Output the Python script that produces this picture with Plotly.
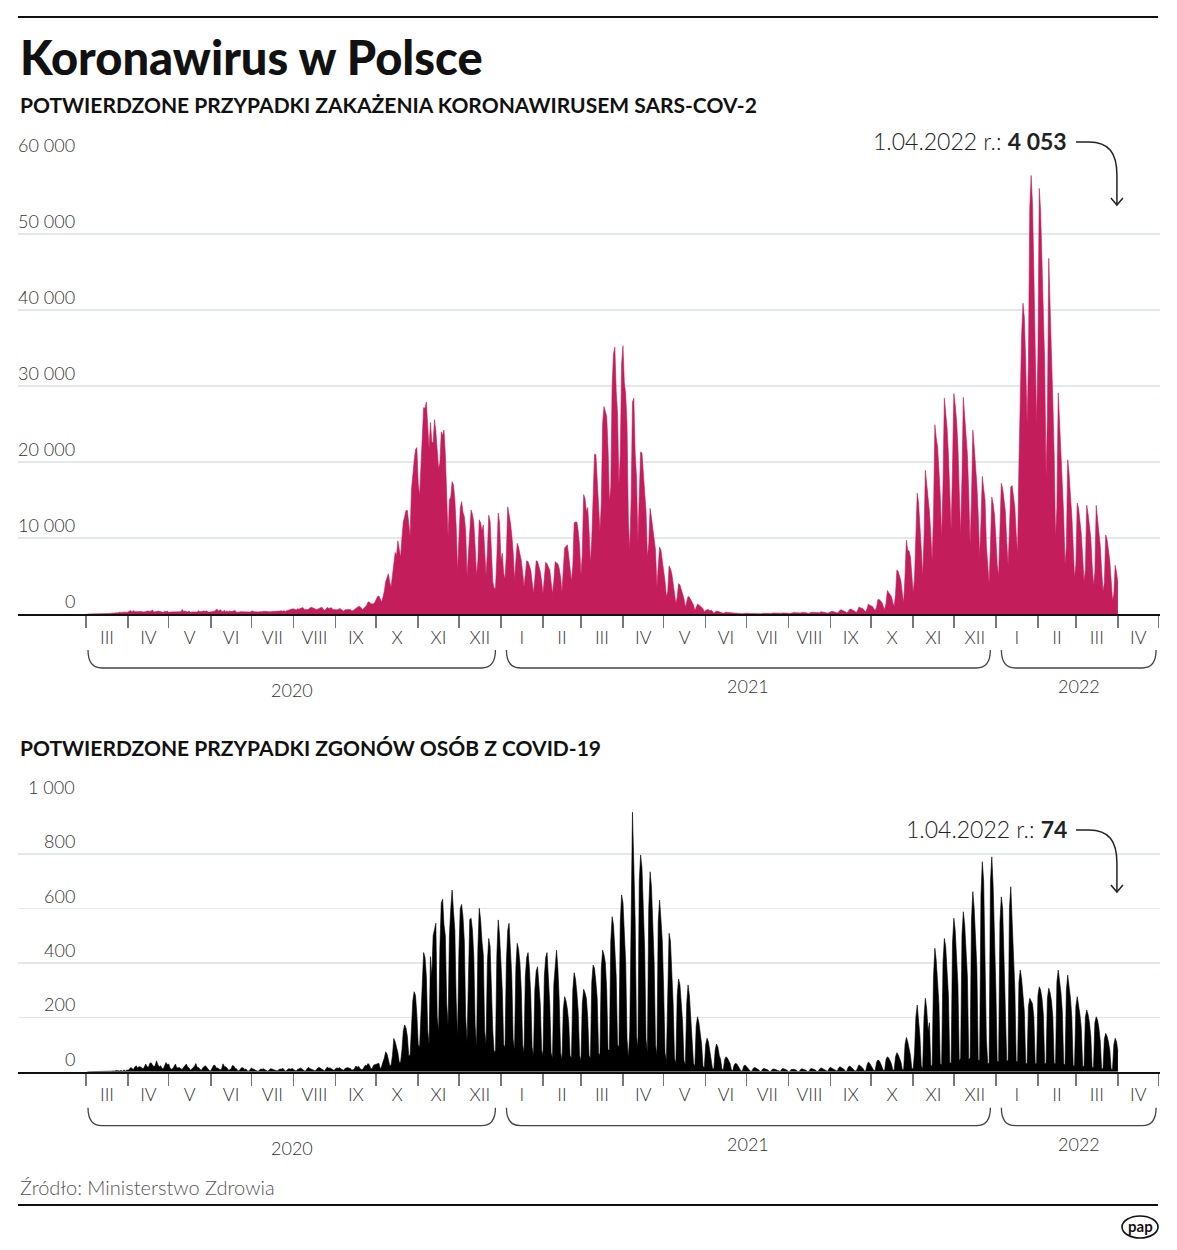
import datetime as dt
import plotly.graph_objects as go

# ---------------- data (daily values, weeks Monday..Sunday, first week starts 2020-03-02) ----------------
START = "2020-03-02"

CASES_WEEKS = [
    [0, 0, 1, 0, 4, 0, 6], [6, 5, 9, 20, 17, 36, 39], [27, 27, 87, 70, 111, 111, 115],
    [152, 150, 170, 249, 170, 244, 224], [193, 256, 243, 392, 437, 244, 475], [311, 325, 370, 380, 357, 318, 268],
    [260, 306, 380, 336, 355, 363, 545], [263, 263, 313, 381, 340, 275, 234], [216, 370, 302, 381, 215, 268, 275],
    [307, 263, 356, 307, 318, 330, 294], [595, 333, 380, 282, 278, 380, 220], [278, 292, 298, 311, 275, 444, 289],
    [322, 395, 399, 353, 416, 250, 240], [292, 293, 361, 361, 599, 575, 347], [576, 366, 282, 506, 308, 407, 302],
    [401, 314, 358, 371, 446, 238, 297], [255, 312, 296, 250, 299, 260, 236], [247, 263, 371, 393, 299, 262, 243],
    [277, 299, 268, 301, 358, 332, 299], [290, 286, 280, 326, 334, 353, 357], [292, 334, 380, 418, 358, 443, 337],
    [443, 512, 615, 657, 658, 680, 599], [511, 680, 640, 726, 809, 843, 599], [548, 575, 619, 832, 903, 832, 738],
    [587, 587, 657, 741, 823, 903, 619], [498, 651, 887, 727, 744, 820, 596], [551, 555, 545, 602, 736, 636, 550],
    [377, 554, 597, 576, 585, 600, 403], [476, 600, 712, 887, 1002, 1002, 736], [587, 744, 975, 1136, 1587, 1584, 1350],
    [1306, 1326, 1552, 1967, 2292, 2367, 1934], [1573, 2236, 3003, 4280, 4739, 5300, 4178],
    [3541, 5068, 6526, 8099, 7705, 9622, 8536], [7482, 10040, 12107, 12836, 13632, 13628, 11742],
    [10241, 16300, 18820, 20156, 21629, 21897, 17171], [15578, 19364, 24692, 27143, 27086, 27875, 24785],
    [21713, 25221, 22683, 22464, 25571, 24051, 21854], [19152, 19883, 23975, 23500, 24200, 21000, 16000],
    [10100, 15000, 15400, 17400, 17000, 15100, 11500], [5700, 9100, 13900, 14800, 13400, 12800, 11000],
    [5000, 8000, 12100, 13700, 13100, 12000, 8800], [5100, 7000, 12400, 12000, 11000, 11700, 8100],
    [5100, 8000, 13000, 12200, 6800, 4200, 3400], [3400, 7500, 13300, 12000, 7000, 8000, 5400],
    [4600, 7800, 14100, 13200, 12000, 10400, 8200], [4500, 6500, 9300, 8800, 8000, 7000, 5500],
    [3600, 5200, 7000, 6900, 6300, 5800, 4200], [2800, 4600, 7000, 6900, 6100, 5600, 4300],
    [2700, 4700, 6800, 6600, 6200, 5800, 4200], [2700, 4300, 6900, 6700, 6600, 6000, 4800],
    [2900, 5800, 8700, 8900, 9100, 7600, 6300], [4300, 6300, 12000, 12100, 12100, 10900, 9000],
    [5100, 7900, 15700, 15200, 13500, 14000, 10900], [6700, 9900, 17300, 21000, 21000, 18000, 14900],
    [11000, 14400, 25100, 27300, 26400, 26000, 21800], [14800, 16700, 30000, 34200, 35100, 29300, 26400],
    [17000, 20900, 32900, 35300, 30500, 28900, 24900], [12000, 8400, 14900, 27900, 28400, 21100, 18000],
    [9500, 15000, 21300, 21200, 17900, 16000, 13600], [7500, 9200, 13900, 12700, 11200, 9700, 8400],
    [3600, 6500, 8800, 8400, 7000, 5900, 4300], [2300, 2900, 6300, 6000, 5300, 4000, 3100],
    [1400, 2200, 4000, 3800, 3200, 2800, 2000], [900, 1700, 2300, 2200, 1800, 1600, 1200],
    [450, 1000, 1300, 1200, 1100, 900, 700], [250, 500, 600, 600, 400, 500, 350],
    [100, 250, 380, 350, 300, 260, 200], [90, 180, 250, 200, 190, 180, 120],
    [60, 100, 130, 120, 110, 100, 80], [40, 80, 110, 100, 90, 70, 60],
    [30, 70, 100, 90, 80, 80, 55], [40, 90, 110, 100, 90, 90, 70],
    [40, 100, 130, 110, 120, 110, 80], [50, 100, 140, 150, 130, 130, 90],
    [60, 120, 170, 190, 180, 160, 110], [70, 140, 210, 220, 200, 180, 120],
    [80, 150, 230, 240, 210, 200, 140], [90, 170, 290, 280, 260, 250, 160],
    [110, 200, 330, 360, 330, 300, 190], [130, 250, 500, 550, 450, 420, 300],
    [150, 300, 600, 650, 550, 500, 350], [200, 450, 900, 850, 800, 700, 450],
    [300, 700, 1300, 1150, 1100, 1000, 700], [450, 900, 1900, 1900, 1700, 1500, 1000],
    [600, 1400, 3100, 2800, 2600, 2300, 1500], [1000, 2600, 5800, 5600, 4900, 4300, 2700],
    [1500, 5000, 9700, 8400, 8300, 7500, 4700], [2800, 4700, 10400, 15900, 14600, 12000, 8500],
    [5000, 10000, 18900, 17000, 14400, 13500, 10500], [7000, 13000, 24900, 23200, 22000, 19000, 15500],
    [10000, 17000, 28400, 26500, 24500, 21000, 16000], [11000, 19000, 29000, 27500, 25500, 22000, 17500],
    [10500, 18000, 28500, 26000, 24000, 21000, 16000], [9000, 15000, 24200, 22000, 20000, 17000, 13000],
    [7500, 12000, 18100, 16500, 15000, 9000, 6000], [4000, 9000, 15400, 14500, 13000, 10000, 6500],
    [5000, 10000, 17200, 16500, 15000, 13500, 9500], [6500, 11000, 16700, 16900, 15500, 14000, 10500],
    [8000, 19700, 30300, 36700, 40900, 39000, 33000], [25000, 33000, 53400, 57700, 54000, 45000, 36000],
    [25000, 34000, 56000, 53000, 47000, 42000, 33000], [18000, 26000, 46800, 39000, 34000, 28000, 21000],
    [10000, 14000, 29100, 25500, 21000, 18000, 13000], [6500, 9000, 20300, 18500, 15500, 13000, 9000],
    [4800, 6500, 14600, 13900, 12500, 10500, 7500], [4300, 5800, 14300, 13200, 11800, 10000, 6500],
    [3800, 5500, 14300, 12500, 10800, 8900, 5800], [3000, 4100, 10400, 9800, 8600, 7000, 4500],
    [1800, 2600, 6400, 5500, 4053],
]

DEATHS_WEEKS = [
    [0, 0, 0, 0, 0, 0, 0], [0, 0, 0, 1, 1, 1, 0], [0, 1, 2, 1, 2, 3, 2], [4, 3, 4, 3, 5, 1, 7],
    [2, 6, 5, 9, 15, 12, 8], [17, 22, 14, 18, 18, 15, 11], [17, 28, 20, 15, 30, 33, 25],
    [19, 22, 40, 26, 18, 22, 13], [10, 20, 34, 26, 28, 14, 9], [12, 20, 28, 14, 16, 15, 10],
    [9, 16, 22, 28, 17, 14, 5], [9, 16, 20, 30, 16, 15, 7], [4, 14, 19, 22, 16, 11, 4],
    [3, 17, 23, 24, 14, 14, 10], [7, 10, 29, 19, 18, 14, 6], [7, 11, 23, 21, 12, 11, 3],
    [4, 11, 15, 14, 8, 10, 3], [2, 8, 14, 10, 9, 5, 2], [1, 7, 10, 9, 11, 7, 3],
    [2, 6, 11, 10, 8, 4, 4], [3, 7, 10, 9, 13, 8, 2], [4, 10, 11, 9, 12, 8, 5],
    [2, 9, 10, 14, 12, 8, 3], [3, 11, 16, 12, 10, 9, 5], [3, 9, 14, 15, 12, 10, 6],
    [3, 11, 17, 13, 14, 11, 6], [4, 11, 14, 12, 15, 10, 7], [5, 12, 13, 15, 13, 12, 6],
    [7, 12, 21, 16, 20, 12, 8], [8, 16, 24, 22, 30, 25, 12], [11, 24, 26, 27, 30, 31, 10],
    [19, 36, 50, 73, 65, 45, 22], [25, 60, 122, 110, 90, 70, 35], [35, 80, 150, 172, 160, 130, 60],
    [60, 170, 260, 294, 280, 210, 100], [90, 230, 373, 438, 420, 350, 150], [100, 423, 350, 500, 520, 546, 200],
    [150, 460, 620, 634, 540, 500, 250], [170, 500, 600, 668, 590, 520, 260], [130, 440, 600, 615, 570, 480, 200],
    [110, 400, 560, 564, 520, 420, 170], [90, 450, 601, 560, 480, 430, 150], [100, 400, 490, 460, 300, 150, 70],
    [80, 430, 558, 500, 400, 300, 100], [90, 400, 520, 546, 450, 350, 120], [80, 380, 472, 450, 400, 300, 100],
    [70, 350, 420, 438, 380, 280, 90], [60, 300, 370, 386, 330, 250, 80], [60, 350, 420, 438, 350, 250, 70],
    [50, 320, 400, 447, 380, 260, 70], [45, 230, 276, 260, 230, 180, 60], [50, 300, 364, 340, 290, 220, 60],
    [40, 250, 303, 290, 270, 200, 60], [50, 330, 392, 380, 330, 270, 70], [60, 380, 447, 430, 400, 300, 80],
    [80, 480, 570, 540, 450, 350, 100], [90, 550, 650, 621, 500, 400, 120], [50, 150, 660, 954, 760, 550, 130],
    [90, 700, 797, 750, 600, 450, 120], [70, 600, 735, 680, 550, 400, 100], [60, 550, 631, 560, 480, 300, 70],
    [40, 250, 509, 480, 380, 250, 50], [30, 280, 341, 320, 250, 180, 40], [25, 250, 319, 280, 200, 150, 30],
    [20, 170, 202, 180, 140, 100, 20], [15, 100, 123, 110, 80, 50, 12], [10, 80, 102, 90, 60, 45, 10],
    [6, 45, 55, 50, 40, 30, 5], [4, 25, 31, 28, 20, 15, 3], [3, 20, 25, 20, 15, 10, 2],
    [2, 12, 15, 14, 10, 8, 1], [1, 10, 12, 10, 8, 6, 1], [1, 8, 10, 9, 7, 5, 1],
    [1, 9, 12, 10, 8, 5, 1], [1, 8, 10, 9, 7, 5, 0], [1, 8, 11, 9, 8, 5, 1],
    [1, 9, 12, 10, 8, 6, 1], [1, 10, 14, 12, 9, 7, 2], [1, 12, 16, 13, 10, 8, 2],
    [2, 14, 18, 15, 12, 9, 2], [2, 15, 21, 18, 14, 10, 3], [3, 18, 25, 22, 18, 12, 3],
    [3, 25, 36, 30, 22, 15, 4], [4, 35, 43, 40, 30, 20, 5], [5, 45, 55, 50, 40, 28, 6],
    [6, 55, 70, 62, 50, 35, 8], [8, 100, 126, 110, 90, 60, 12], [10, 70, 200, 245, 200, 130, 20],
    [12, 200, 270, 230, 150, 180, 25], [20, 350, 454, 410, 330, 250, 30], [25, 400, 490, 460, 380, 280, 35],
    [30, 470, 564, 520, 430, 320, 40], [49, 502, 588, 540, 460, 350, 45], [50, 560, 662, 600, 480, 380, 45],
    [40, 650, 772, 700, 450, 120, 30], [30, 700, 790, 680, 500, 300, 40], [35, 550, 643, 600, 420, 300, 40],
    [40, 600, 680, 560, 420, 300, 40], [35, 330, 374, 340, 280, 220, 30], [30, 240, 270, 260, 250, 200, 30],
    [30, 280, 312, 300, 270, 210, 30], [30, 270, 307, 290, 260, 200, 30], [30, 330, 374, 340, 290, 220, 30],
    [25, 300, 355, 320, 270, 200, 25], [20, 240, 276, 250, 210, 160, 20], [18, 200, 227, 210, 180, 130, 15],
    [15, 180, 202, 190, 160, 110, 12], [10, 120, 141, 130, 110, 80, 10], [8, 100, 123, 110, 74],
]

MONTH_LABELS = ["III", "IV", "V", "VI", "VII", "VIII", "IX", "X", "XI", "XII",
                "I", "II", "III", "IV", "V", "VI", "VII", "VIII", "IX", "X", "XI", "XII",
                "I", "II", "III", "IV"]
YEAR_LABELS = ["2020", "2021", "2022"]
Y1_TICKS = [0, 10000, 20000, 30000, 40000, 50000, 60000]
Y2_TICKS = [0, 200, 400, 600, 800, 1000]

TITLE = "Koronawirus w Polsce"
SUB1 = "POTWIERDZONE PRZYPADKI ZAKAŻENIA KORONAWIRUSEM SARS-COV-2"
SUB2 = "POTWIERDZONE PRZYPADKI ZGONÓW OSÓB Z COVID-19"
SOURCE = "Źródło: Ministerstwo Zdrowia"

# ---------------- derived series ----------------
CASES = [v for w in CASES_WEEKS for v in w]
DEATHS = [v for w in DEATHS_WEEKS for v in w]
d0 = dt.datetime.strptime(START, "%Y-%m-%d")
DATES = [d0 + dt.timedelta(days=i) for i in range(len(CASES))]
LAST = DATES[-1]

# ---------------- geometry ----------------
W, H = 1177, 1250
PL, PR = 18, 1160
ANCHOR = dt.datetime(2020, 3, 1)
ANCHOR_PX = 86
PPD = 1.356

RED = "#C41D5B"
FONT = "Lato"


def px_to_date(px):
    return ANCHOR + dt.timedelta(days=(px - ANCHOR_PX) / PPD)


def date_px(d):
    return ANCHOR_PX + (d - ANCHOR).total_seconds() / 86400 * PPD


def fx(px):
    return (px - PL) / (PR - PL)


def fy(py):
    return 1 - py / H


months = []
y, m = 2020, 3
while (y, m) <= (2022, 5):
    months.append(dt.datetime(y, m, 1))
    m += 1
    if m > 12:
        m, y = 1, y + 1
mids = [a + (b - a) / 2 for a, b in zip(months[:-1], months[1:])]

TOP = dict(base=614, top=158)
BOT = dict(base=1071.7, top=799.7)

fig = go.Figure()
fig.add_trace(go.Scatter(x=DATES, y=CASES, mode="lines", line=dict(color=RED, width=0.6),
                         fill="tozeroy", fillcolor=RED, hoverinfo="skip", xaxis="x", yaxis="y"))
fig.add_trace(go.Scatter(x=DATES, y=DEATHS, mode="lines", line=dict(color="#000", width=0.6),
                         fill="tozeroy", fillcolor="#000", hoverinfo="skip", xaxis="x2", yaxis="y2"))

xcommon = dict(
    type="date", range=[px_to_date(PL), px_to_date(PR)], domain=[0, 1],
    tickmode="array", tickvals=mids, ticktext=MONTH_LABELS,
    ticks="outside", ticklen=6, tickcolor="rgba(0,0,0,0)",
    tickfont=dict(family=FONT, size=18, color="#333", weight=300),
    showgrid=False, zeroline=False, showline=True, linecolor="#111", linewidth=2,
    minor=dict(tickmode="array", tickvals=months, ticks="outside", ticklen=12,
               tickwidth=1.5, tickcolor="#777", showgrid=False),
    fixedrange=True,
)
ycommon = dict(showgrid=True, gridcolor="#e3e8eb", gridwidth=1.5, zeroline=False,
               showticklabels=False, ticks="", fixedrange=True, tickmode="array")

fig.update_layout(
    width=W, height=H, margin=dict(l=PL, r=W - PR, t=0, b=0),
    paper_bgcolor="white", plot_bgcolor="white", showlegend=False,
    xaxis=dict(xcommon, anchor="y"),
    yaxis=dict(ycommon, domain=[fy(TOP["base"]), fy(TOP["top"])], range=[0, 60000], tickvals=Y1_TICKS),
    xaxis2=dict(xcommon, anchor="y2"),
    yaxis2=dict(ycommon, domain=[fy(BOT["base"]), fy(BOT["top"])], range=[0, 1000], tickvals=Y2_TICKS),
)

ann = []
shapes = []


def fmt(v):
    return f"{v:,}".replace(",", " ")


for yref, ticks in (("y", Y1_TICKS), ("y2", Y2_TICKS)):
    for v in ticks:
        ann.append(dict(x=fx(77), xref="paper", xanchor="right", y=v, yref=yref, yanchor="bottom",
                        yshift=0, text=fmt(v), showarrow=False,
                        font=dict(family=FONT, size=18, color="#333", weight=300)))

# titles
ann.append(dict(x=0, xref="paper", xanchor="left", y=fy(57), yref="paper", yanchor="middle",
                text=TITLE, showarrow=False, font=dict(family=FONT, size=47, color="#111", weight=900)))
ann.append(dict(x=0, xref="paper", xanchor="left", y=fy(105), yref="paper", yanchor="middle",
                text=SUB1, showarrow=False, font=dict(family=FONT, size=21, color="#111", weight=700)))
ann.append(dict(x=0, xref="paper", xanchor="left", y=fy(747), yref="paper", yanchor="middle",
                text=SUB2, showarrow=False, font=dict(family=FONT, size=21, color="#111", weight=700)))
ann.append(dict(x=0, xref="paper", xanchor="left", y=fy(1187), yref="paper", yanchor="middle",
                text=SOURCE, showarrow=False, font=dict(family=FONT, size=20, color="#555", weight=300)))

# rules
for yy in (17, 1205):
    shapes.append(dict(type="line", xref="paper", yref="paper", x0=fx(18), x1=fx(1158),
                       y0=fy(yy), y1=fy(yy), line=dict(color="#111", width=2)))

# year braces
year_bounds = [dt.datetime(2020, 3, 1), dt.datetime(2021, 1, 1), dt.datetime(2022, 1, 1), dt.datetime(2022, 5, 1)]
YEAR_DY = [4, 0, 0]
for panel in (TOP, BOT):
    yt, yb = panel["base"] + 36, panel["base"] + 54
    for i, lab in enumerate(YEAR_LABELS):
        x0 = date_px(year_bounds[i]) + (2 if i == 0 else 5.5)
        x1 = date_px(year_bounds[i + 1]) - (2.5 if i == 2 else 5.5)
        r = 14
        path = (f"M {fx(x0)},{fy(yt)} Q {fx(x0)},{fy(yb)} {fx(x0 + r)},{fy(yb)} "
                f"L {fx(x1 - r)},{fy(yb)} Q {fx(x1)},{fy(yb)} {fx(x1)},{fy(yt)}")
        shapes.append(dict(type="path", xref="paper", yref="paper", path=path,
                           line=dict(color="#444", width=1.3)))
        ann.append(dict(x=fx((x0 + x1) / 2), xref="paper", xanchor="center",
                        y=fy(yb + 18 + YEAR_DY[i]), yref="paper", yanchor="middle", text=lab,
                        showarrow=False, font=dict(family=FONT, size=18, color="#333", weight=300)))

# callouts
ax = date_px(LAST) - 1
for val, ty, tip in ((CASES[-1], 141, 205), (DEATHS[-1], 829, 892)):
    label = f"{LAST.day}.{LAST:%m.%Y} r.: <b>{fmt(val)}</b>"
    ann.append(dict(x=fx(1069), xref="paper", xanchor="right", y=fy(ty), yref="paper", yanchor="middle",
                    text=label, showarrow=False, font=dict(family=FONT, size=23, color="#222", weight=300)))
    path = (f"M {fx(1076)},{fy(ty + 1)} L {fx(ax - 28)},{fy(ty + 1)} "
            f"C {fx(ax - 8)},{fy(ty + 1)} {fx(ax)},{fy(ty + 12)} {fx(ax)},{fy(ty + 34)} "
            f"L {fx(ax)},{fy(tip)}")
    shapes.append(dict(type="path", xref="paper", yref="paper", path=path, line=dict(color="#222", width=1.5)))
    head = f"M {fx(ax - 6)},{fy(tip - 7)} L {fx(ax)},{fy(tip)} L {fx(ax + 6)},{fy(tip - 7)}"
    shapes.append(dict(type="path", xref="paper", yref="paper", path=head, line=dict(color="#222", width=1.5)))

# pap logo
shapes.append(dict(type="circle", xref="paper", yref="paper", x0=fx(1122), x1=fx(1158),
                   y0=fy(1238), y1=fy(1216), line=dict(color="#111", width=1.6), fillcolor="white"))
ann.append(dict(x=fx(1140), xref="paper", xanchor="center", y=fy(1226), yref="paper", yanchor="middle",
                text="<b>pap</b>", showarrow=False, font=dict(family=FONT, size=15, color="#111", weight=900)))

fig.update_layout(annotations=ann, shapes=shapes)
fig.write_html("out.html", config={"displayModeBar": False, "staticPlot": True},
               post_script="document.body.style.margin='0';document.body.style.padding='0';")
